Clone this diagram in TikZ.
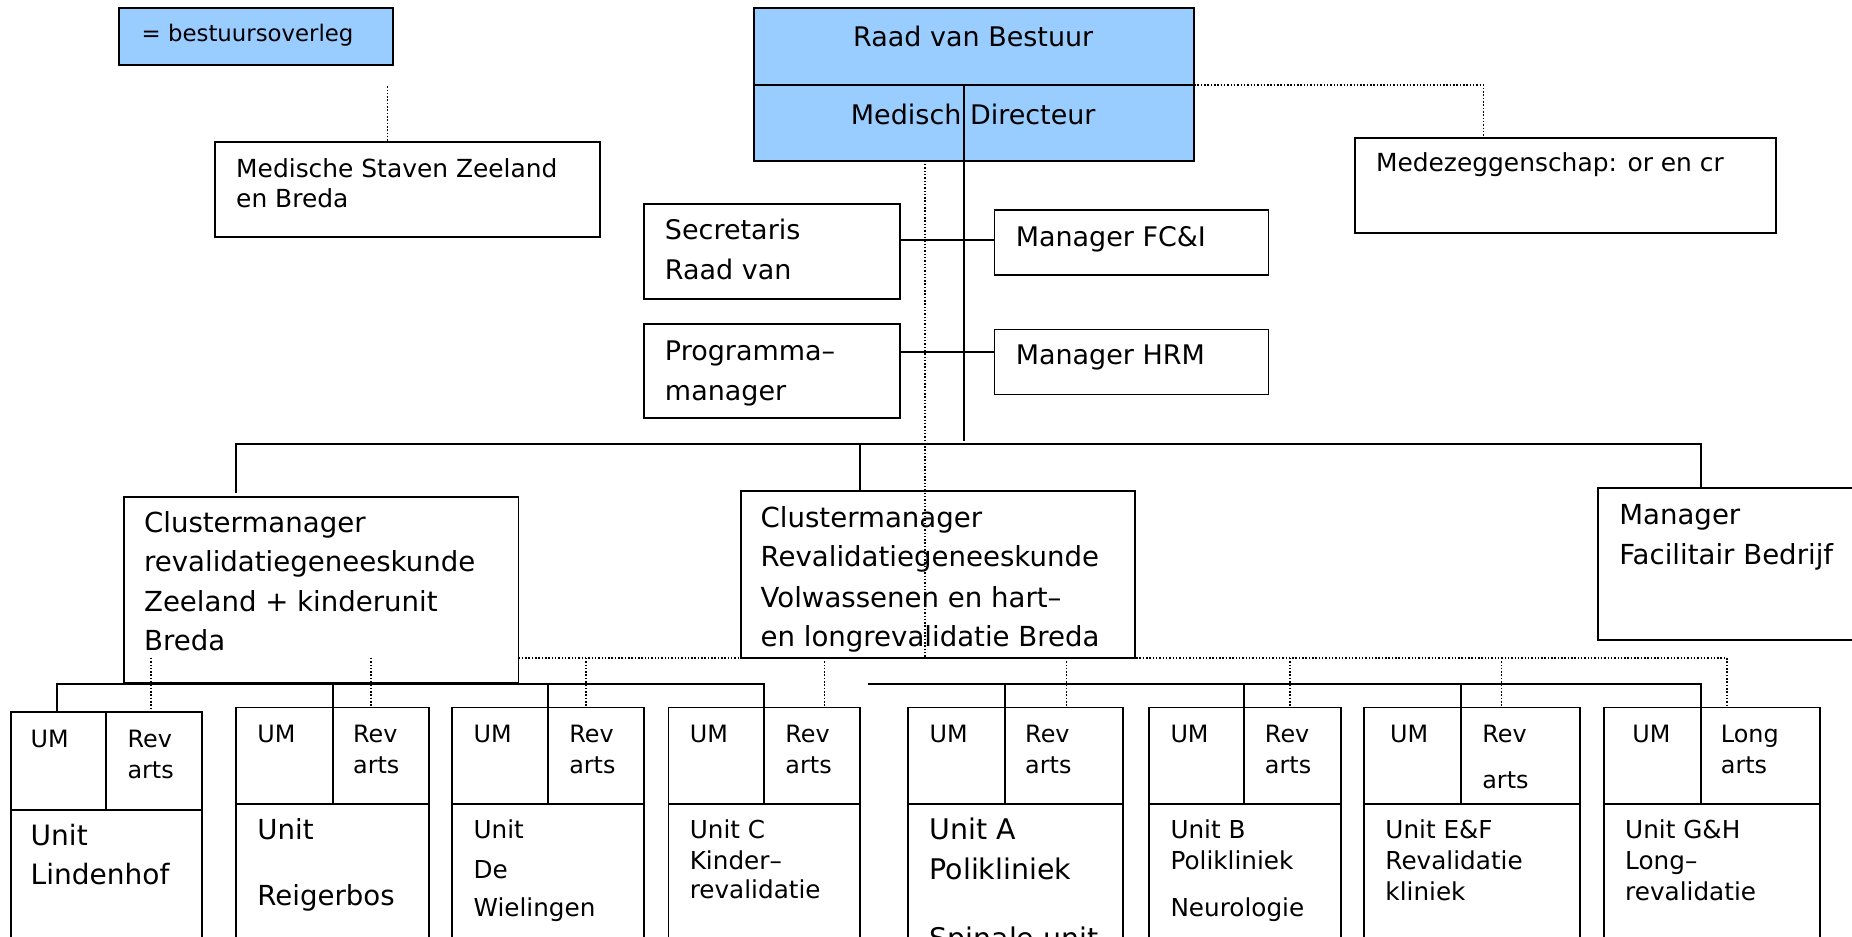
\documentclass[tikz,border=0pt]{standalone}
\usepackage{fontspec}
\setmainfont{DejaVu Sans}
\definecolor{rvb}{RGB}{153,204,255}
\newcommand\fs[1]{\fontsize{#1pt}{#1pt}\selectfont}
\newcommand\bx[6]{\node[#6, anchor=north west, minimum width={(#4-#2)*0.02cm}, minimum height={(#5-#3)*0.02cm}] (#1) at (#2,#3) {};}
\begin{document}
\begin{tikzpicture}[x=0.02cm,y=-0.02cm,
 box/.style={draw=black, line width=0.9pt, fill=white, inner sep=0pt, outer sep=0pt},
 bluebox/.style={box, fill=rvb},
 lbl/.style={anchor=base west, inner sep=0pt, outer sep=0pt},
 ctr/.style={anchor=base, inner sep=0pt, outer sep=0pt},
 conn/.style={line width=0.9pt},
 dotl/.style={line width=0.7pt, dash pattern=on 0.7pt off 0.9pt}]
\useasboundingbox (0,0) rectangle (1568,793);
\fill[white] (0,0) rectangle (1568,793);
% boxes
\bx{leg}{101}{7}{333}{55}{bluebox}
\bx{rvb}{638}{7}{1011}{72}{bluebox}
\bx{md}{638}{72}{1011}{136}{bluebox}
\bx{ms}{182}{120}{508}{201}{box}
\bx{mz}{1147}{117}{1504}{197}{box}
\bx{sec}{545}{173}{762}{253}{box}
\bx{fci}{842}{178}{1074}{233}{box}
\bx{prog}{545}{274}{762}{354}{box}
\bx{hrm}{842}{279}{1074}{334}{box}
\bx{cla}{105}{421}{439}{578}{box}
\bx{clb}{627}{416}{961}{557}{box}
\bx{fac}{1353}{413}{1590}{542}{box}
% unit boxes
\bx{uma}{9}{603}{90}{686}{box}\bx{raa}{90}{603}{171}{686}{box}\bx{una}{9}{686}{171}{820}{box}
\bx{umb}{200}{599}{282}{681}{box}\bx{rab}{282}{599}{363}{681}{box}\bx{unb}{200}{681}{363}{820}{box}
\bx{umc}{383}{599}{464}{681}{box}\bx{rac}{464}{599}{545}{681}{box}\bx{unc}{383}{681}{545}{820}{box}
\bx{umd}{566}{599}{647}{681}{box}\bx{rad}{647}{599}{728}{681}{box}\bx{und}{566}{681}{728}{820}{box}
\bx{ume}{769}{599}{851}{681}{box}\bx{rae}{851}{599}{951}{681}{box}\bx{une}{769}{681}{951}{820}{box}
\bx{umf}{973}{599}{1053}{681}{box}\bx{raf}{1053}{599}{1135}{681}{box}\bx{unf}{973}{681}{1135}{820}{box}
\bx{umg}{1155}{599}{1237}{681}{box}\bx{rag}{1237}{599}{1338}{681}{box}\bx{ung}{1155}{681}{1338}{820}{box}
\bx{umh}{1358}{599}{1440}{681}{box}\bx{rah}{1440}{599}{1541}{681}{box}\bx{unh}{1358}{681}{1541}{820}{box}
% solid connectors
\coordinate (spinetop) at (816,72);
\coordinate (spinebot) at (816,373);
\draw[conn] (spinetop) -- (spinebot);
\draw[conn] (sec.east |- 0,203) -- (fci.west |- 0,203);
\draw[conn] (prog.east |- 0,298) -- (hrm.west |- 0,298);
\coordinate (cldrop) at (200,417);
\coordinate (facdrop) at (1440,412);
\draw[conn] (cldrop) |- (1440,376) -- (facdrop);
\draw[conn] (728,376) -- (clb.north -| 728,0);
\draw[conn] (uma.north -| 48,0) |- (rad.north west |- 0,579) -- (rad.north west);
\draw[conn] (rab.north west) -- (rab.north west |- 0,579);
\draw[conn] (rac.north west) -- (rac.north west |- 0,579);
\coordinate (rbusend) at (735,579);
\draw[conn] (rbusend) -| (rah.north west);
\draw[conn] (rae.north west) -- (rae.north west |- 0,579);
\draw[conn] (raf.north west) -- (raf.north west |- 0,579);
\draw[conn] (rag.north west) -- (rag.north west |- 0,579);
% dotted connectors
\draw[dotl] (328,73) -- (ms.north -| 328,0);
\draw[dotl] (rvb.south east) -| (mz.north -| 1256,0);
\draw[dotl] (md.south -| 783,0) -- (clb.south -| 783,0);
\draw[dotl] (cla.east |- 0,557) -| (rah.north -| 1462,0);
\draw[dotl] (128,557) -- (raa.north -| 128,0);
\draw[dotl] (314,557) -- (rab.north -| 314,0);
\draw[dotl] (496,557) -- (rac.north -| 496,0);
\draw[dotl] (698,557) -- (rad.north -| 698,0);
\draw[dotl] (903,557) -- (rae.north -| 903,0);
\draw[dotl] (1092,557) -- (raf.north -| 1092,0);
\draw[dotl] (1271,557) -- (rag.north -| 1271,0);
% texts
\node[lbl,font=\fs{11}] (legt) at (120,35) {= bestuursoverleg};
\node[ctr,font=\fs{13}] (rvbt) at (824,39) {Raad van Bestuur};
\node[ctr,font=\fs{13}] (mdt) at (824,105) {Medisch Directeur};
\node[lbl,font=\fs{12}] (mst1) at (200,150) {Medische Staven Zeeland};
\node[lbl,font=\fs{12}] (mst2) at (200,176) {en Breda};
\node[lbl,font=\fs{12}] (mzt) at (1165,145) {Medezeggenschap: or en cr};
\node[lbl,font=\fs{13}] (sect1) at (563,203) {Secretaris};
\node[lbl,font=\fs{13}] (sect2) at (563,237) {Raad van};
\node[lbl,font=\fs{13}] (fcit) at (860,209) {Manager FC\&I};
\node[lbl,font=\fs{13}] (progt1) at (563,305) {Programma–};
\node[lbl,font=\fs{13}] (progt2) at (563,339) {manager};
\node[lbl,font=\fs{13}] (hrmt) at (860,309) {Manager HRM};
\node[lbl,font=\fs{13.3}] (clat1) at (122,451) {Clustermanager};
\node[lbl,font=\fs{13.3}] (clat2) at (122,484) {revalidatiegeneeskunde};
\node[lbl,font=\fs{13.3}] (clat3) at (122,518) {Zeeland + kinderunit};
\node[lbl,font=\fs{13.3}] (clat4) at (122,551) {Breda};
\begin{scope}
\clip (627,416) rectangle (961,557);
\node[lbl,font=\fs{13.3}] (clbt1) at (644,447) {Clustermanager};
\node[lbl,font=\fs{13.3}] (clbt2) at (644,480) {Revalidatiegeneeskunde};
\node[lbl,font=\fs{13.3}] (clbt3) at (644,514) {Volwassenen en hart–};
\node[lbl,font=\fs{13.3}] (clbt4) at (644,547) {en longrevalidatie Breda};
\end{scope}
\node[lbl,font=\fs{13.3}] (fact1) at (1371,444) {Manager};
\node[lbl,font=\fs{13.3}] (fact2) at (1371,478) {Facilitair Bedrijf};
% UM / Rev arts
\node[lbl,font=\fs{11.5}] (umat) at (26,633) {UM};
\node[lbl,font=\fs{11.5}] (raat1) at (108,633) {Rev};
\node[lbl,font=\fs{11.5}] (raat2) at (108,659) {arts};
\node[lbl,font=\fs{11.5}] (umbt) at (218,629) {UM};
\node[lbl,font=\fs{11.5}] (rabt1) at (299,629) {Rev};
\node[lbl,font=\fs{11.5}] (rabt2) at (299,655) {arts};
\node[lbl,font=\fs{11.5}] (umct) at (401,629) {UM};
\node[lbl,font=\fs{11.5}] (ract1) at (482,629) {Rev};
\node[lbl,font=\fs{11.5}] (ract2) at (482,655) {arts};
\node[lbl,font=\fs{11.5}] (umdt) at (584,629) {UM};
\node[lbl,font=\fs{11.5}] (radt1) at (665,629) {Rev};
\node[lbl,font=\fs{11.5}] (radt2) at (665,655) {arts};
\node[lbl,font=\fs{11.5}] (umet) at (787,629) {UM};
\node[lbl,font=\fs{11.5}] (raet1) at (868,629) {Rev};
\node[lbl,font=\fs{11.5}] (raet2) at (868,655) {arts};
\node[lbl,font=\fs{11.5}] (umft) at (991,629) {UM};
\node[lbl,font=\fs{11.5}] (raft1) at (1071,629) {Rev};
\node[lbl,font=\fs{11.5}] (raft2) at (1071,655) {arts};
\node[lbl,font=\fs{11.5}] (umgt) at (1177,629) {UM};
\node[lbl,font=\fs{11.5}] (ragt1) at (1255,629) {Rev};
\node[lbl,font=\fs{11.5}] (ragt2) at (1255,668) {arts};
\node[lbl,font=\fs{11.5}] (umht) at (1382,629) {UM};
\node[lbl,font=\fs{11.5}] (raht1) at (1457,629) {Long};
\node[lbl,font=\fs{11.5}] (raht2) at (1457,655) {arts};
% unit names
\node[lbl,font=\fs{13.5}] (unat1) at (26,716) {Unit};
\node[lbl,font=\fs{13.5}] (unat2) at (26,749) {Lindenhof};
\node[lbl,font=\fs{13.3}] (unbt1) at (218,711) {Unit};
\node[lbl,font=\fs{13.3}] (unbt2) at (218,767) {Reigerbos};
\node[lbl,font=\fs{11.9}] (unct1) at (401,710) {Unit};
\node[lbl,font=\fs{11.9}] (unct2) at (401,744) {De};
\node[lbl,font=\fs{11.9}] (unct3) at (401,776) {Wielingen};
\node[lbl,font=\fs{11.9}] (undt1) at (584,710) {Unit C};
\node[lbl,font=\fs{11.9}] (undt2) at (584,736) {Kinder–};
\node[lbl,font=\fs{11.9}] (undt3) at (584,761) {revalidatie};
\node[lbl,font=\fs{13.7}] (unet1) at (787,711) {Unit A};
\node[lbl,font=\fs{13.7}] (unet2) at (787,745) {Polikliniek};
\node[lbl,font=\fs{13.7}] (unet3) at (787,803) {Spinale unit};
\node[lbl,font=\fs{11.9}] (unft1) at (991,710) {Unit B};
\node[lbl,font=\fs{11.9}] (unft2) at (991,736) {Polikliniek};
\node[lbl,font=\fs{11.9}] (unft3) at (991,776) {Neurologie};
\node[lbl,font=\fs{11.9}] (ungt1) at (1173,710) {Unit E\&F};
\node[lbl,font=\fs{11.9}] (ungt2) at (1173,736) {Revalidatie};
\node[lbl,font=\fs{11.9}] (ungt3) at (1173,762) {kliniek};
\node[lbl,font=\fs{11.9}] (unht1) at (1376,710) {Unit G\&H};
\node[lbl,font=\fs{11.9}] (unht2) at (1376,736) {Long–};
\node[lbl,font=\fs{11.9}] (unht3) at (1376,762) {revalidatie};
\end{tikzpicture}
\end{document}
